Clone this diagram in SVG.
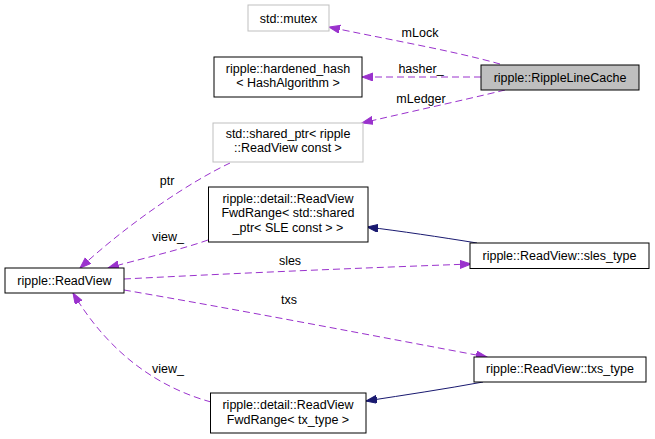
<svg xmlns="http://www.w3.org/2000/svg" width="655" height="439" viewBox="0 0 655 439">
<style>
text{font-family:"Liberation Sans",Arial,sans-serif;font-size:12.5px;fill:#000;text-anchor:middle}
.n{fill:#fff;stroke:#000;stroke-width:1}
.g{fill:#fff;stroke:#bfbfbf;stroke-width:1}
.c{fill:#bfbfbf;stroke:#000;stroke-width:1}
.u{fill:none;stroke:#9a32cd;stroke-width:1;stroke-dasharray:7,4}
.b{fill:none;stroke:#191970;stroke-width:1}
</style>
<defs>
<marker id="ap" markerUnits="userSpaceOnUse" markerWidth="12" markerHeight="9" refX="11" refY="4" orient="auto" viewBox="0 0 12 9">
<path d="M0,0 L11,4 L0,8 z" fill="#9a32cd" stroke="#9a32cd"/>
</marker>
<marker id="ab" markerUnits="userSpaceOnUse" markerWidth="12" markerHeight="9" refX="11" refY="4" orient="auto" viewBox="0 0 12 9">
<path d="M0,0 L11,4 L0,8 z" fill="#191970" stroke="#191970"/>
</marker>
</defs>
<g id="edges">
<path class="u" d="M500,64 C450,50 380,38 329,27" marker-end="url(#ap)"/>
<path class="u" d="M481,77 L362,77" marker-end="url(#ap)"/>
<path class="u" d="M505,90 C460,101 400,114 362,123" marker-end="url(#ap)"/>
<path class="u" d="M230,163 C190,182 130,222 80,268" marker-end="url(#ap)"/>
<path class="u" d="M208,240 C180,250 140,259 108,268" marker-end="url(#ap)"/>
<path class="u" d="M124,279 C240,273 360,268 471,264" marker-end="url(#ap)"/>
<path class="u" d="M124,290 C240,310 380,337 487,357" marker-end="url(#ap)"/>
<path class="u" d="M211,402 C160,388 110,355 73,293" marker-end="url(#ap)"/>
<path class="b" d="M477,243 C440,237 400,231 367,227" marker-end="url(#ab)"/>
<path class="b" d="M483,382 C445,389 405,395 366,401" marker-end="url(#ab)"/>
</g>
<g id="labels">
<text x="420" y="37">mLock</text>
<text x="421" y="73">hasher_</text>
<text x="421" y="103">mLedger</text>
<text x="167" y="185">ptr</text>
<text x="168" y="241">view_</text>
<text x="290" y="265">sles</text>
<text x="289" y="304">txs</text>
<text x="168" y="373">view_</text>
</g>
<g id="mutex"><rect class="g" x="248" y="5" width="81" height="26"/><text x="288.5" y="22.5">std::mutex</text></g>
<g id="hardened_hash"><rect class="n" x="214" y="57" width="148" height="40"/><text x="288" y="73">ripple::hardened_hash</text><text x="288" y="87">&lt; HashAlgorithm &gt;</text></g>
<g id="RippleLineCache"><rect class="c" x="481" y="65" width="158" height="25"/><text x="560" y="82">ripple::RippleLineCache</text></g>
<g id="shared_ptr"><rect class="g" x="213" y="123" width="150" height="39"/><text x="288" y="138">std::shared_ptr&lt; ripple</text><text x="288" y="152">::ReadView const &gt;</text></g>
<g id="FwdRangeSle"><rect class="n" x="208.5" y="187" width="159.5" height="55"/><text x="288" y="203">ripple::detail::ReadView</text><text x="288" y="217">FwdRange&lt; std::shared</text><text x="288" y="232">_ptr&lt; SLE const &gt; &gt;</text></g>
<g id="ReadView"><rect class="n" x="5" y="268" width="119" height="25"/><text x="64.5" y="285">ripple::ReadView</text></g>
<g id="sles_type"><rect class="n" x="470" y="243" width="179" height="25.5"/><text x="559.5" y="260">ripple::ReadView::sles_type</text></g>
<g id="txs_type"><rect class="n" x="474" y="357" width="172" height="25"/><text x="560" y="373">ripple::ReadView::txs_type</text></g>
<g id="FwdRangeTx"><rect class="n" x="210.5" y="393" width="155.5" height="40"/><text x="288" y="409">ripple::detail::ReadView</text><text x="288" y="424">FwdRange&lt; tx_type &gt;</text></g>
</svg>
